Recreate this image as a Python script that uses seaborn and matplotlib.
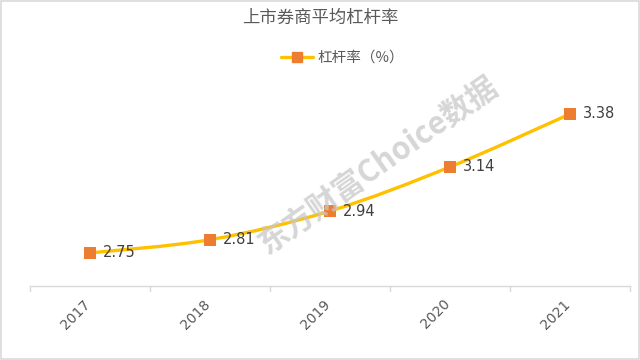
import numpy as np
import pandas as pd
import matplotlib
matplotlib.use("Agg")
import matplotlib.pyplot as plt
import matplotlib.transforms as mtransforms
from matplotlib.path import Path
from matplotlib.patches import PathPatch, Rectangle
from matplotlib.lines import Line2D
import seaborn as sns

years = ["2017", "2018", "2019", "2020", "2021"]
leverage = [2.75, 2.81, 2.94, 3.14, 3.38]
title = "上市券商平均杠杆率"
series_name = "杠杆率（%）"
watermark = "东方财富Choice数据"

sns.set_theme(style="white")
plt.rcParams["font.family"] = ["Noto Sans CJK SC", "DejaVu Sans"]

LINE = "#FFC000"
MARK = "#ED7D31"
TXT = "#595959"
GRID = "#D9D9D9"

df = pd.DataFrame({"year": years, "value": leverage})

fig = plt.figure(figsize=(6.4, 3.6), dpi=100)
ax = fig.add_axes([30/640, (360-286)/360, 600/640, (286-87.5)/360])

# smooth line through data points (Catmull-Rom as cubic Bezier)
x = np.arange(len(years), dtype=float)
y = np.array(leverage)
verts = [(x[0], y[0])]
codes = [Path.MOVETO]
t = 1/6
for i in range(len(x) - 1):
    p0 = (x[i-1], y[i-1]) if i > 0 else (x[i], y[i])
    p1 = (x[i], y[i])
    p2 = (x[i+1], y[i+1])
    p3 = (x[i+2], y[i+2]) if i + 2 < len(x) else (x[i+1], y[i+1])
    c1 = (p1[0] + (p2[0]-p0[0])*t, p1[1] + (p2[1]-p0[1])*t)
    c2 = (p2[0] - (p3[0]-p1[0])*t, p2[1] - (p3[1]-p1[1])*t)
    verts += [c1, c2, p2]
    codes += [Path.CURVE4]*3
ax.add_patch(PathPatch(Path(verts, codes), fill=False, edgecolor=LINE, lw=2.4,
                       capstyle="round", joinstyle="round", zorder=3))

sns.scatterplot(data=df, x="year", y="value", marker="s", s=70, color=MARK,
                edgecolor=MARK, linewidth=0, ax=ax, zorder=4, legend=False)

for i, v in enumerate(leverage):
    ax.annotate(f"{v:.2f}", (i, v), xytext=(9, 0), textcoords="offset points",
                ha="left", va="center", fontsize=10.5, color="#404040",
                family=["DejaVu Sans"], zorder=5)

ax.set_xlim(-0.5, len(years) - 0.5)
ax.set_ylim(2.6, 3.5)
ax.set_xlabel("")
ax.set_ylabel("")
ax.set_yticks([])
ax.set_xticks(range(len(years)))
ax.set_xticklabels(years, rotation=45, fontsize=10, color=TXT,
                   family=["DejaVu Sans"])
ax.tick_params(axis="x", length=0, pad=10)
shift = mtransforms.ScaledTranslation(-7/100, 3/100, fig.dpi_scale_trans)
for lbl in ax.get_xticklabels():
    lbl.set_horizontalalignment("right")
    lbl.set_rotation_mode("anchor")
    lbl.set_transform(lbl.get_transform() + shift)
for s in ["top", "right", "left"]:
    ax.spines[s].set_visible(False)
ax.spines["bottom"].set_color(GRID)
ax.spines["bottom"].set_linewidth(1)
# boundary tick marks
for b in np.arange(-0.5, len(years), 1.0):
    ax.plot([b, b], [0, -0.025], transform=ax.get_xaxis_transform(),
            color=GRID, lw=1, clip_on=False)
ax.patch.set_alpha(0)

fig.text(0.5, 1 - 18/360, title, ha="center", va="center", fontsize=12.5, color=TXT)

handle = Line2D([0], [0], color=LINE, lw=2.4, marker="s", markersize=7.5,
                markerfacecolor=MARK, markeredgecolor=MARK)
fig.legend([handle], [series_name], loc="center", bbox_to_anchor=(0.535, 1 - 58/360),
           frameon=False, fontsize=10.5, labelcolor=TXT, handlelength=2.2,
           handletextpad=0.3)

fig.text(378/640, 1 - 165/360, watermark, ha="center", va="center", rotation=35,
         fontsize=22, color="#C8C8C8", alpha=0.75, fontweight="bold",
         style="italic", zorder=0)

fig.add_artist(Rectangle((0.001, 0.002), 0.997, 0.995, transform=fig.transFigure,
                         fill=False, edgecolor="#D9D9D9", lw=1.2))

fig.savefig("out.png", dpi=100, facecolor="white")
